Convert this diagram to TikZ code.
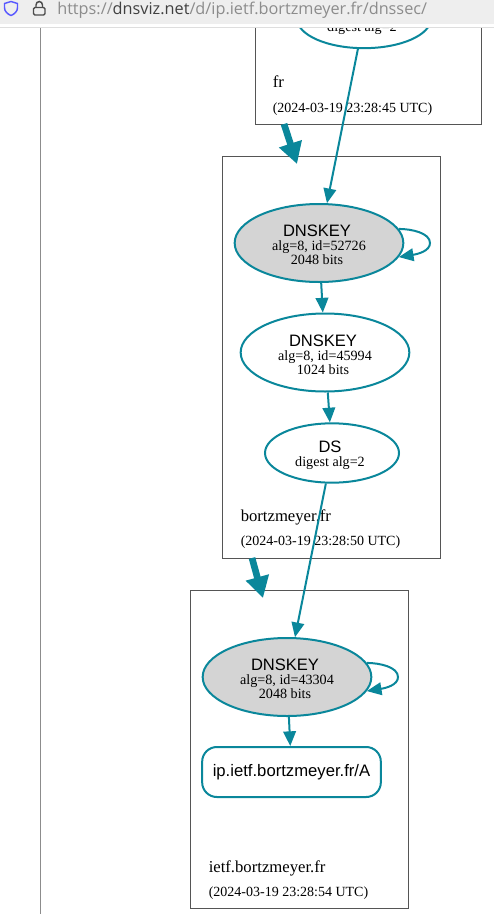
\documentclass[tikz,border=0pt]{standalone}
\usepackage{xcolor}
\usepackage{fontspec}
\setmainfont{Liberation Serif}
\setsansfont{Liberation Sans}
\newfontfamily\urlfont{Open Sans}
\usepackage{tikz}
\usetikzlibrary{arrows.meta, positioning, shapes.geometric, calc}
\definecolor{dvteal}{RGB}{10,135,155}
\definecolor{dvgris}{RGB}{85,85,85}
\definecolor{dvbar}{RGB}{238,238,238}
\definecolor{dvurl}{RGB}{140,140,140}
\tikzset{
  zonebox/.style={draw=dvgris, line width=0.7pt},
  keynode/.style={ellipse, draw=dvteal, line width=1.5pt, minimum width=126.5pt, minimum height=58.5pt, inner sep=0pt, align=center, font=\fontsize{10.6}{10.5}\selectfont},
  signed/.style={keynode, fill=black!17},
  dsnode/.style={keynode, minimum width=100.5pt, minimum height=44.5pt},
  rrnode/.style={rectangle, rounded corners=11pt, draw=dvteal, line width=1.5pt, minimum width=134pt, minimum height=37.5pt, font=\sffamily\fontsize{12.5}{15}\selectfont},
  edge/.style={draw=dvteal, line width=1.5pt, -{Triangle[length=11pt,width=9.5pt]}},
  bigedge/.style={draw=dvteal, line width=5pt, -{Triangle[length=16pt,width=17pt]}},
  zonename/.style={anchor=base west, inner sep=0pt, font=\fontsize{12.5}{14}\selectfont},
  zonetime/.style={anchor=base west, inner sep=0pt, font=\fontsize{10.5}{12}\selectfont}
}
\newcommand{\headtext}[1]{\rule{0pt}{12pt}{\sffamily\fontsize{12.4}{10.5}\selectfont #1}\hspace*{3pt}}
\newcommand{\keytext}[2]{\headtext{DNSKEY}\\alg=8, id=#1\hspace*{3pt}\\#2 bits\hspace*{3pt}}
\newcommand{\dstext}{\headtext{DS}\\digest alg=2\hspace*{3pt}}
\begin{document}
\begin{tikzpicture}[x=0.75pt, y=-0.75pt]
  \useasboundingbox (0,0) rectangle (494,914);
  \draw[line width=0.75pt, black!45] (40.5,20) -- (40.5,914);
  % zone boxes
  \draw[zonebox] (255.5,-20) rectangle (481.5,124.5);
  \draw[zonebox] (222.5,156.5) rectangle (440.5,558);
  \draw[zonebox] (190.5,590) rectangle (408.5,908.5);
  % fr
  \node[dsnode] (dsfr) at (364,18.5) {\dstext};
  \node[zonename] (namefr) at (272.5,87) {fr};
  \node[zonetime] (timefr) at (272.5,112) {(2024-03-19 23:28:45 UTC)};
  % bortzmeyer.fr
  \node[signed] (ksk) at (319,243) {\keytext{52726}{2048}};
  \node[keynode] (zsk) at (325,352.5) {\keytext{45994}{1024}};
  \node[dsnode] (ds) at (332,453) {\dstext};
  \node[zonename] (namebz) at (240.5,521) {bortzmeyer.fr};
  \node[zonetime] (timebz) at (240.5,545) {(2024-03-19 23:28:50 UTC)};
  % ietf.bortzmeyer.fr
  \node[signed] (kskip) at (287,677) {\keytext{43304}{2048}};
  \node[rrnode] (rr) at (291.5,772) {\raisebox{-1.5pt}{ip.ietf.bortzmeyer.fr/A}};
  \node[zonename] (nameip) at (208.5,872) {ietf.bortzmeyer.fr};
  \node[zonetime] (timeip) at (208.5,896) {(2024-03-19 23:28:54 UTC)};
  % delegations
  \coordinate (delfr) at (284,124);
  \coordinate (delbz) at (297,164);
  \coordinate (delbz2) at (252,558);
  \coordinate (delip) at (263,598);
  \draw[bigedge] (delfr) -- (delbz);
  \draw[bigedge] (delbz2) -- (delip);
  % edges
  \draw[edge] (dsfr) -- (ksk);
  \draw[edge] (ksk) -- (zsk);
  \draw[edge] (zsk) -- (ds);
  \draw[edge] (ds) -- (kskip);
  \draw[edge] (kskip) -- (rr);
  \draw[edge] (ksk.10) .. controls (412,229) and (430,233) .. (430,243) .. controls (430,251) and (418,254) .. (ksk.-10);
  \draw[edge] (kskip.10) .. controls (380,663) and (398,667) .. (398,677) .. controls (398,685) and (386,688) .. (kskip.-10);
  % browser bar
  \fill[white] (0,0) rectangle (494,28);
  \fill[dvbar] (0,0) rectangle (494,24);
  \draw[line width=0.9pt, black!13] (0,27.5) -- (494,27.5);
  \draw[line width=1.1pt, blue!65!white, line join=round] (11,1.5) -- (17.5,3.5) -- (17.5,7.5) .. controls (17.5,11.5) and (14.5,14) .. (11,15.5) .. controls (7.5,14) and (4.5,11.5) .. (4.5,7.5) -- (4.5,3.5) -- cycle;
  \draw[line width=1.1pt, black!70, rounded corners=1pt] (33.5,7.5) rectangle (45,15);
  \draw[line width=1.1pt, black!70] (36,7.5) -- (36,5) arc[start angle=180, end angle=360, x radius=3.25, y radius=3.5] -- (42.5,7.5);
  \node[anchor=base west, inner sep=0pt, text=dvurl, font=\urlfont\fontsize{12.2}{14}\selectfont] (url) at (57,14) {https://\textcolor{black!75}{dnsviz.net}/d/ip.ietf.bortzmeyer.fr/dnssec/};
\end{tikzpicture}
\end{document}
